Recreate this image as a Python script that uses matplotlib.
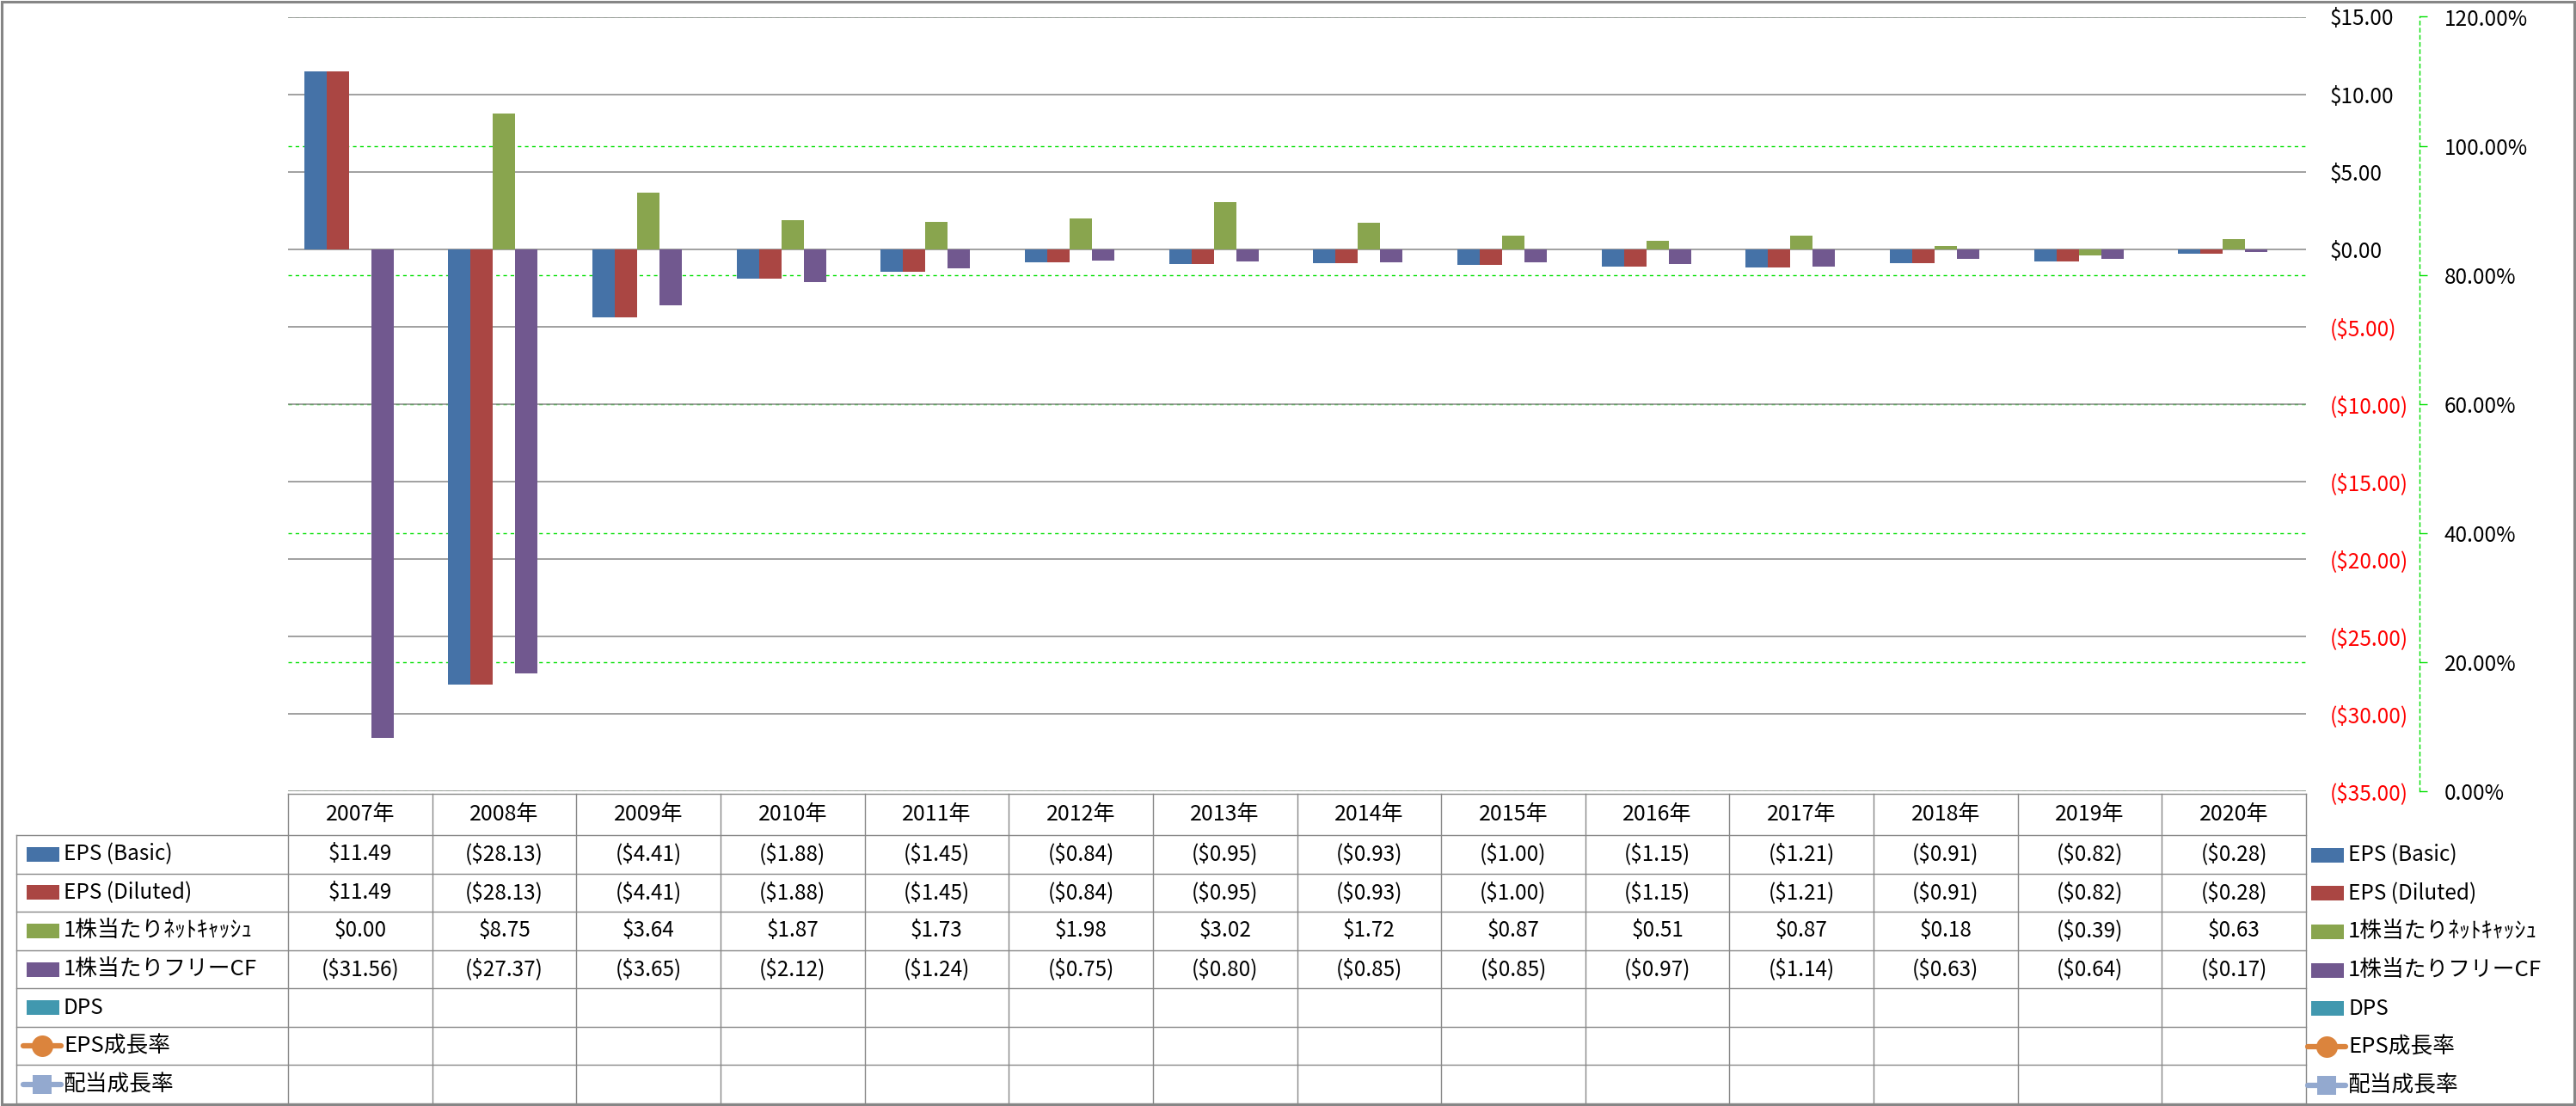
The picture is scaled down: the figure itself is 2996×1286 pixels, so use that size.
import matplotlib
matplotlib.use('Agg')
import matplotlib.pyplot as plt
from matplotlib.patches import Rectangle
from matplotlib.lines import Line2D
import numpy as np

plt.rcParams['font.family'] = ['Noto Sans CJK JP', 'DejaVu Sans']

# ---------------- data ----------------
years = ['2007年', '2008年', '2009年', '2010年', '2011年', '2012年', '2013年',
         '2014年', '2015年', '2016年', '2017年', '2018年', '2019年', '2020年']
eps_basic = [11.49, -28.13, -4.41, -1.88, -1.45, -0.84, -0.95, -0.93, -1.00, -1.15, -1.21, -0.91, -0.82, -0.28]
eps_diluted = [11.49, -28.13, -4.41, -1.88, -1.45, -0.84, -0.95, -0.93, -1.00, -1.15, -1.21, -0.91, -0.82, -0.28]
net_cash = [0.00, 8.75, 3.64, 1.87, 1.73, 1.98, 3.02, 1.72, 0.87, 0.51, 0.87, 0.18, -0.39, 0.63]
free_cf = [-31.56, -27.37, -3.65, -2.12, -1.24, -0.75, -0.80, -0.85, -0.85, -0.97, -1.14, -0.63, -0.64, -0.17]
dps = [np.nan] * 14
eps_growth = [np.nan] * 14
div_growth = [np.nan] * 14

bar_names = ['EPS (Basic)', 'EPS (Diluted)', '1株当たりﾈｯﾄｷｬｯｼｭ', '1株当たりフリーCF', 'DPS']
bar_series = [eps_basic, eps_diluted, net_cash, free_cf, dps]
bar_colors = ['#4572A7', '#AA4643', '#89A54E', '#71588F', '#4198AF']
line_names = ['EPS成長率', '配当成長率']
line_series = [eps_growth, div_growth]
line_colors = ['#DB843D', '#93A9CF']
line_markers = ['o', 's']

y1_ticks = list(range(-35, 16, 5))
y2_ticks = [0.0, 0.2, 0.4, 0.6, 0.8, 1.0, 1.2]

# ---------------- layout ----------------
W, H = 2996, 1286
DPI = 100
fig = plt.figure(figsize=(W / DPI, H / DPI), dpi=DPI)
fig.patch.set_facecolor('white')

PL, PR, PT, PB = 335, 2682, 19.5, 920
def px2pt(p):
    return p * 72.0 / DPI

ax = fig.add_axes([PL / W, 1 - PB / H, (PR - PL) / W, (PB - PT) / H])
ax2 = ax.twinx()
ax.set_zorder(ax2.get_zorder() + 1)
ax.patch.set_visible(False)

n = len(years)
x = np.arange(n)
bw = 26.0 / ((PR - PL) / n)
offs = (np.arange(len(bar_series)) - (len(bar_series) - 1) / 2) * bw
for vals, col, off in zip(bar_series, bar_colors, offs):
    ax.bar(x + off, vals, width=bw, color=col, linewidth=0, zorder=3)
for vals, col, mk in zip(line_series, line_colors, line_markers):
    ax2.plot(x, vals, color=col, marker=mk)

ax.set_xlim(-0.5, n - 0.5)
ax.set_ylim(-35, 15)
ax.set_yticks(y1_ticks)
ax.set_xticks([])
ax.yaxis.grid(True, color='#868686', linewidth=1.1)
ax.set_axisbelow(True)
for s in ax.spines.values():
    s.set_visible(False)
ax.yaxis.tick_right()
ax.tick_params(axis='y', length=0, pad=px2pt(2710 - PR), labelsize=17.5)

def money(v):
    if v < 0:
        return '(${:.2f})'.format(-v)
    return '${:.2f}'.format(v)

ax.set_yticklabels([money(v) for v in y1_ticks])
for lab, v in zip(ax.get_yticklabels(), y1_ticks):
    lab.set_color('#FF0000' if v < 0 else 'black')
    lab.set_horizontalalignment('left')

ax2.set_ylim(0, 1.2)
ax2.set_yticks(y2_ticks)
ax2.set_yticklabels(['{:.2f}%'.format(v * 100) for v in y2_ticks])
ax2.yaxis.grid(True, color='#00E000', linestyle=(0, (3, 3)), linewidth=1.0)
for k in ['top', 'bottom', 'left']:
    ax2.spines[k].set_visible(False)
ax2.spines['right'].set_position(('axes', (2814 - PL) / (PR - PL)))
ax2.spines['right'].set_color('#00E000')
ax2.spines['right'].set_linestyle((0, (3, 3)))
ax2.spines['right'].set_linewidth(1.0)
ax2.tick_params(axis='y', direction='out', length=px2pt(9), width=1.0, color='#00E000',
                pad=px2pt(20), labelsize=17.5)

# ---------------- data table overlay ----------------
tax = fig.add_axes([0, 0, 1, 1], zorder=10)
tax.set_xlim(0, W)
tax.set_ylim(H, 0)
tax.axis('off')
tax.patch.set_visible(False)

gc = '#888888'
lw = 1.0
rows_y = [923, 971] + list(np.linspace(971, 1283, 8)[1:])
cols_x = PL + (PR - PL) * np.arange(n + 1) / n
LX = 19
# horizontal lines
tax.plot([PL, PR], [rows_y[0], rows_y[0]], color=gc, lw=lw)
for yy in rows_y[1:]:
    tax.plot([LX, PR], [yy, yy], color=gc, lw=lw)
# vertical lines
tax.plot([LX, LX], [rows_y[1], rows_y[-1]], color=gc, lw=lw)
for xx in cols_x:
    tax.plot([xx, xx], [rows_y[0], rows_y[-1]], color=gc, lw=lw)

fs = 17.5
# header
for i, yr in enumerate(years):
    tax.text((cols_x[i] + cols_x[i + 1]) / 2, (rows_y[0] + rows_y[1]) / 2, yr,
             ha='center', va='center', fontsize=18)

row_centers = [(rows_y[k] + rows_y[k + 1]) / 2 for k in range(1, len(rows_y) - 1)]

def legend_entry(x0, yc, kind, color, marker, label):
    if kind == 'bar':
        tax.add_patch(Rectangle((x0 + 2, yc - 8.5), 38, 17, facecolor=color, edgecolor='none'))
    else:
        tax.add_line(Line2D([x0 - 2, x0 + 42], [yc, yc], color=color, lw=4.5,
                            marker=None, solid_capstyle='round'))
        tax.add_line(Line2D([x0 + 20], [yc], color=color, marker=marker,
                            markersize=px2pt(25 if marker == 'o' else 22), markeredgewidth=0,
                            linestyle='none'))
    size = fs if label.isascii() else 18.5
    tax.text(x0 + 45, yc, label, ha='left', va='center', fontsize=size)

entries = [('bar', c, None, nm) for c, nm in zip(bar_colors, bar_names)] + \
          [('line', c, m, nm) for c, m, nm in zip(line_colors, line_markers, line_names)]

for (kind, col, mk, nm), yc in zip(entries, row_centers):
    legend_entry(29, yc, kind, col, mk, nm)
    legend_entry(2686, yc + 1, kind, col, mk, nm)

# values
for r, vals in enumerate(bar_series):
    for i, v in enumerate(vals):
        if v is None or (isinstance(v, float) and np.isnan(v)):
            continue
        tax.text((cols_x[i] + cols_x[i + 1]) / 2, row_centers[r], money(v),
                 ha='center', va='center', fontsize=fs)

# outer frame
tax.add_patch(Rectangle((1.5, 1.5), W - 3.5, H - 3.5, facecolor='none', edgecolor='#868686', lw=2.2))

fig.savefig('out.png', dpi=DPI, facecolor='white')
